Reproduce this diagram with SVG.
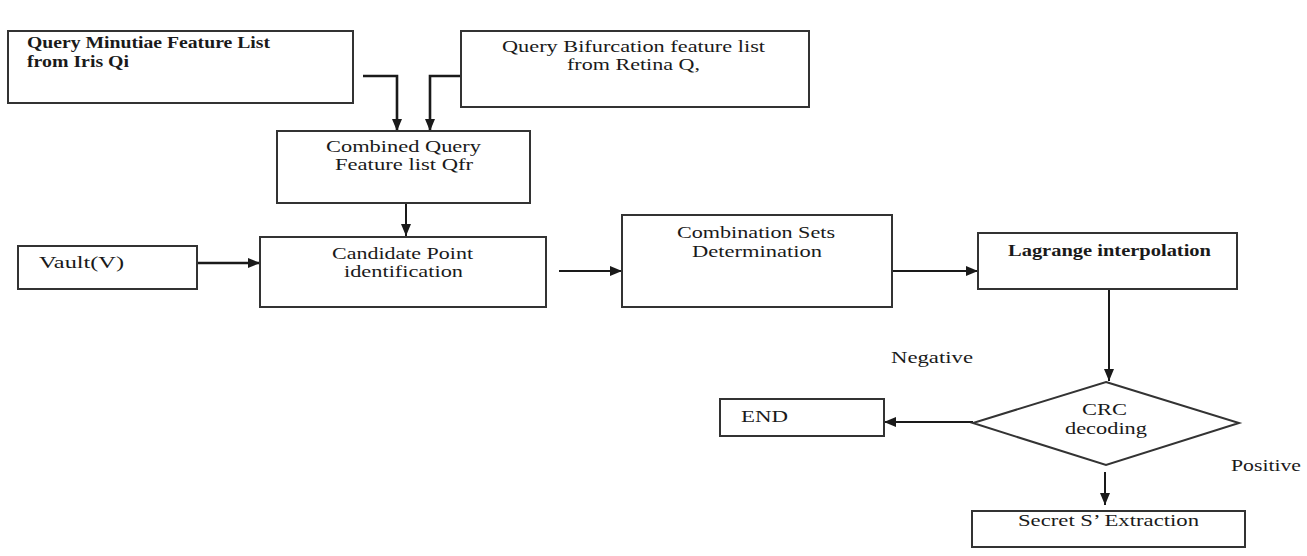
<svg xmlns="http://www.w3.org/2000/svg" width="1307" height="556" viewBox="0 0 1307 556">
<style>
.box{fill:#fff;stroke:#333;stroke-width:2}
.t{font-family:"Liberation Serif","Times New Roman",serif;font-size:17px;fill:#1a1a1a}
.b{font-weight:bold}
.ln{fill:none;stroke:#1a1a1a;stroke-width:2}
.thick{stroke-width:2.6}
</style>
<defs>
<marker id="ah" markerUnits="userSpaceOnUse" markerWidth="12" markerHeight="10" refX="12" refY="5" orient="auto">
<path d="M0,0 L12,5 L0,10 Z" fill="#1a1a1a"/>
</marker>
</defs>
<rect width="1307" height="556" fill="#fff"/>
<g id="connectors">
<path class="ln thick" d="M363,76 H397 V131" marker-end="url(#ah)"/>
<path class="ln thick" d="M461,76 H430 V131" marker-end="url(#ah)"/>
<path class="ln" d="M406,203 V236" marker-end="url(#ah)"/>
<path class="ln thick" d="M197,263 H260" marker-end="url(#ah)"/>
<path class="ln" d="M559,271 H622" marker-end="url(#ah)"/>
<path class="ln" d="M881,271 H978" marker-end="url(#ah)"/>
<path class="ln" d="M1109,289 V381" marker-end="url(#ah)"/>
<path class="ln" d="M973,422 H884" marker-end="url(#ah)"/>
<path class="ln" d="M1105,472 V505" marker-end="url(#ah)"/>
</g>
<g id="n1">
<rect class="box" x="8" y="31" width="345" height="72"/>
<text class="t b" x="27" y="48" textLength="243" lengthAdjust="spacingAndGlyphs" fill="#14143c">Query Minutiae Feature List</text>
<text class="t b" x="27" y="67" textLength="102" lengthAdjust="spacingAndGlyphs" fill="#14143c">from Iris Qi</text>
</g>
<g id="n2">
<rect class="box" x="461" y="31" width="348" height="76" stroke-width="2.6"/>
<text class="t" x="502" y="52" textLength="263" lengthAdjust="spacingAndGlyphs">Query Bifurcation feature list</text>
<text class="t" x="567" y="70" textLength="133" lengthAdjust="spacingAndGlyphs">from Retina Q,</text>
</g>
<g id="n3">
<rect class="box" x="277" y="131" width="253" height="72"/>
<text class="t" x="326" y="152" textLength="155" lengthAdjust="spacingAndGlyphs">Combined Query</text>
<text class="t" x="335" y="170" textLength="138" lengthAdjust="spacingAndGlyphs">Feature list Qfr</text>
</g>
<g id="n4">
<rect class="box" x="18" y="246" width="179" height="43"/>
<text class="t" x="39" y="268" textLength="85" lengthAdjust="spacingAndGlyphs">Vault(V)</text>
</g>
<g id="n5">
<rect class="box" x="260" y="237" width="286" height="70"/>
<text class="t" x="332" y="259" textLength="141" lengthAdjust="spacingAndGlyphs">Candidate Point</text>
<text class="t" x="344" y="277" textLength="119" lengthAdjust="spacingAndGlyphs">identification</text>
</g>
<g id="n6">
<rect class="box" x="622" y="215" width="270" height="92"/>
<text class="t" x="677" y="238" textLength="158" lengthAdjust="spacingAndGlyphs">Combination Sets</text>
<text class="t" x="692" y="257" textLength="130" lengthAdjust="spacingAndGlyphs">Determination</text>
</g>
<g id="n7">
<rect class="box" x="978" y="233" width="259" height="56"/>
<text class="t" x="1008" y="256" textLength="203" lengthAdjust="spacingAndGlyphs" font-weight="600">Lagrange interpolation</text>
</g>
<g id="n8">
<polygon class="box" points="1106,382 1239,423 1106,465 973,423"/>
<text class="t" x="1082" y="415" textLength="45" lengthAdjust="spacingAndGlyphs">CRC</text>
<text class="t" x="1065" y="434" textLength="82" lengthAdjust="spacingAndGlyphs">decoding</text>
</g>
<g id="n9">
<rect class="box" x="720" y="399" width="164" height="37"/>
<text class="t" x="741" y="422" textLength="47" lengthAdjust="spacingAndGlyphs">END</text>
</g>
<g id="n10">
<rect class="box" x="972" y="511" width="273" height="36"/>
<text class="t" x="1018" y="526" textLength="181" lengthAdjust="spacingAndGlyphs">Secret S’ Extraction</text>
</g>
<g id="labels">
<text class="t" x="891" y="363" textLength="82" lengthAdjust="spacingAndGlyphs">Negative</text>
<text class="t" x="1231" y="471" textLength="70" lengthAdjust="spacingAndGlyphs">Positive</text>
</g>
</svg>
